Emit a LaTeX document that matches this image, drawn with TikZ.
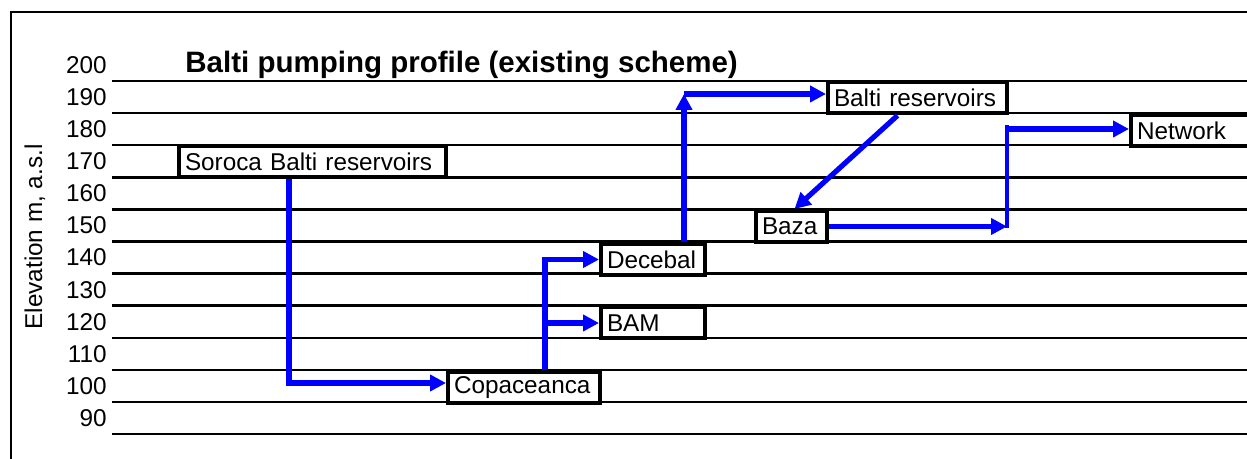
\documentclass[tikz,border=0pt]{standalone}
\usepackage{fontspec}
\setmainfont{Liberation Sans}
\usetikzlibrary{arrows.meta, positioning}
\definecolor{FlowBlue}{HTML}{0000FF}
\tikzset{
    % Level lines and frame
    level line/.style={
        draw=black,
        line width=1.25pt
    },
    frame line/.style={
        draw=black,
        line width=1.4pt
    },
    % Elevation labels
    elev label/.style={
        anchor=east,
        inner sep=0pt,
        font=\fontsize{12.15}{14}\selectfont
    },
    % Station boxes, text on the left
    station/.style={
        rectangle,
        draw=black,
        fill=white,
        line width=2pt,
        minimum height=15.5pt,
        inner xsep=3pt,
        inner ysep=0pt,
        align=left,
        font=\fontsize{12.15}{14}\selectfont
    },
    % Pumping connectors
    flow/.style={
        -{Triangle[length=8pt, width=8pt]},
        draw=FlowBlue,
        line width=2.6pt
    },
    pipe/.style={
        draw=FlowBlue,
        line width=2.4pt
    }
}
\begin{document}
\begin{tikzpicture}[x=0.5pt, y=-0.5pt]
        \clip (0,0) rectangle (1247,459);

        % Frame
        \draw[frame line] (11,459) |- (1247,12);

        % Level lines and labels
        \foreach \k in {0,...,11}
            \draw[level line] (112,81+32.1*\k) -- (1247,81+32.1*\k);
        \foreach \v [count=\i from 0] in {200,190,...,90}
            \node[elev label] (e\v) at (107,65+32.1*\i) {\v};

        % Axis title and heading
        \node[rotate=90, inner sep=0pt, font=\fontsize{12.15}{14}\selectfont] (axis) at (35,237) {Elevation m, a.s.l};
        \node[anchor=west, inner sep=0pt, font=\fontsize{14.75}{17}\selectfont\bfseries] (title) at (185,65) {Balti pumping profile (existing scheme)};

        % Stations
        \node[station, text width=127.5pt] (soroca) at (312.5,162) {Soroca Balti reservoirs};
        \node[station, text width=70pt] (copac) at (524,387.5) {Copaceanca};
        \node[station, text width=46pt] (decebal) at (653,259.5) {Decebal};
        \node[station, text width=46pt] (bam) at (653,323) {BAM};
        \node[station, text width=29.5pt] (baza) at (791.5,226.5) {Baza};
        \node[station, text width=83.5pt] (baltires) at (917.5,98) {Balti reservoirs};
        \node[station, text width=58.5pt] (network) at (1195.5,130.5) {Network};

        % Corners
        \coordinate (up) at (684,94);
        \coordinate (lowbend) at (1007,226.5);
        \coordinate (highbend) at (1007,129);

        % Arrows
        \draw[flow] ([xshift=-11.75pt]soroca.south) |- ([yshift=2.25pt]copac.west);
        \draw[flow] ([xshift=10.5pt]copac.north) |- (decebal.west);
        \draw[flow] ([xshift=10.5pt]copac.north) |- (bam.west);
        \draw[flow] ([xshift=15.5pt]decebal.north) -- (up);
        \draw[flow] (up) -- (baltires.west |- up);
        \draw[flow] ([xshift=-10pt]baltires.south) -- ([xshift=1.5pt]baza.north);
        \draw[flow] (baza.east) -- (lowbend);
        \draw[pipe] ([yshift=-1pt]lowbend) -- ([yshift=2pt]highbend);
        \draw[flow] (highbend) -- (network.west |- highbend);
    \end{tikzpicture}
\end{document}
